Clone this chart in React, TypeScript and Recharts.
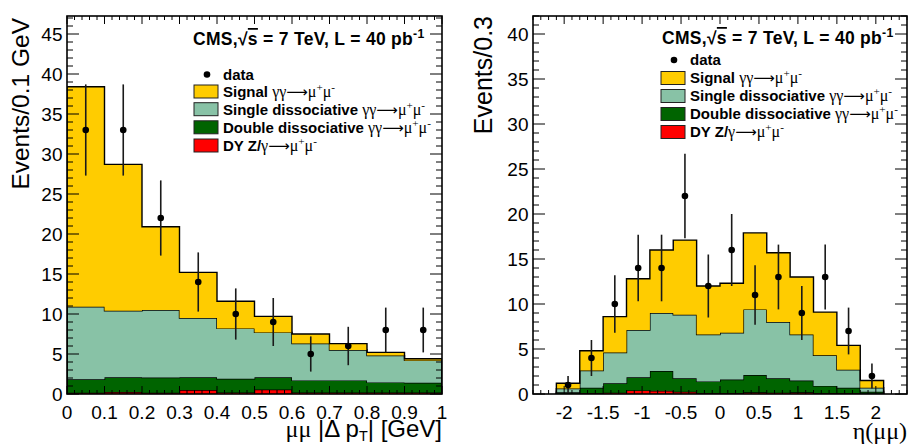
import React from "react";
import { ComposedChart, Area, Scatter, ErrorBar, XAxis, YAxis } from "recharts";

// ---- left panel: mumu |Delta pT| ----
const ptEdges = [0, 0.1, 0.2, 0.3, 0.4, 0.5, 0.6, 0.7, 0.8, 0.9, 1.0];
const ptCenters = [0.05, 0.15, 0.25, 0.35, 0.45, 0.55, 0.65, 0.75, 0.85, 0.95];
const ptData = [33, 33, 22, 14, 10, 9, 5, 6, 8, 8];
const ptDataErr = [5.7, 5.7, 4.7, 3.7, 3.2, 3.0, 2.2, 2.4, 2.8, 2.8];
const ptDY = [0.15, 0.25, 0.15, 0.5, 0.2, 0.55, 0.2, 0.2, 0.2, 0.2];
const ptDouble = [1.7, 1.85, 1.9, 1.6, 1.7, 1.55, 1.5, 1.5, 1.25, 1.2];
const ptSingle = [9.05, 8.3, 8.45, 7.4, 6.3, 5.6, 4.6, 3.8, 3.35, 2.8];
const ptSignal = [27.5, 18.3, 10.4, 5.7, 3.4, 2.0, 1.2, 0.8, 0.4, 0.2];
const ptXMajor = [0, 0.1, 0.2, 0.3, 0.4, 0.5, 0.6, 0.7, 0.8, 0.9, 1];
const ptYMajor = [0, 5, 10, 15, 20, 25, 30, 35, 40, 45];

// ---- right panel: eta(mumu) ----
const etaEdges = [-2.1, -1.8, -1.5, -1.2, -0.9, -0.6, -0.3, 0, 0.3, 0.6, 0.9, 1.2, 1.5, 1.8, 2.1];
const etaCenters = [-1.95, -1.65, -1.35, -1.05, -0.75, -0.45, -0.15, 0.15, 0.45, 0.75, 1.05, 1.35, 1.65, 1.95];
const etaData = [1, 4, 10, 14, 14, 22, 12, 16, 11, 13, 9, 13, 7, 2];
const etaDataErr = [1.0, 2.0, 3.2, 3.7, 3.7, 4.7, 3.5, 4.0, 3.3, 3.6, 3.0, 3.6, 2.6, 1.4];
const etaDY = [0.05, 0.1, 0.15, 0.4, 0.35, 0.25, 0.1, 0.1, 0.2, 0.15, 0.2, 0.1, 0.1, 0.05];
const etaDouble = [0.15, 0.6, 1.05, 1.45, 2.2, 1.5, 1.3, 1.5, 1.9, 1.6, 1.3, 0.8, 0.6, 0.2];
const etaSingle = [0.4, 1.9, 3.4, 5.25, 6.45, 7.05, 5.2, 5.2, 7.3, 6.25, 5.1, 3.4, 2.0, 0.45];
const etaSignal = [0.6, 2.2, 4.0, 5.7, 7.0, 8.3, 5.4, 5.5, 8.5, 7.7, 6.4, 4.8, 2.7, 0.8];
const etaXMajor = [-2, -1.5, -1, -0.5, 0, 0.5, 1, 1.5, 2];
const etaYMajor = [0, 5, 10, 15, 20, 25, 30, 35, 40];

const legendNames = ["Signal ", "Single dissociative ", "Double dissociative ", "DY Z/"];
const legendInitial = ["γγ", "γγ", "γγ", "γ"];
const colors = { signal: "#ffcc00", single: "#88c2a6", double: "#006400", dy: "#ff0000" };

const SANS = "'Liberation Sans', Arial, Helvetica, sans-serif";
const SERIF = "'Liberation Serif', 'DejaVu Serif', serif";

const H = 444;
const PLOT_TOP = 16;
const PLOT_BOTTOM = 394;

function stepRows(edges: number[], dy: number[], dd: number[], sd: number[], sig: number[]) {
    const n = dy.length;
    const row = (x: number, i: number) => ({
        x,
        dy: i < 0 ? 0 : dy[i],
        dd: i < 0 ? 0 : dd[i],
        sd: i < 0 ? 0 : sd[i],
        sig: i < 0 ? 0 : sig[i],
    });
    const rows = [row(edges[0], -1)];
    for (let i = 0; i < n; i++) rows.push(row(edges[i], i));
    rows.push(row(edges[n], n - 1));
    rows.push(row(edges[n], -1));
    return rows;
}

function range(lo: number, hi: number, step: number) {
    const out: number[] = [];
    const n = Math.round((hi - lo) / step);
    for (let i = 0; i <= n; i++) out.push(+(lo + i * step).toFixed(4));
    return out;
}

const isMajor = (v: number, majors: number[]) => majors.some((m) => Math.abs(m - v) < 1e-6);

interface PanelProps {
    left: number;
    width: number;
    mLeft: number;
    mRight: number;
    rows: any[];
    points: { x: number; y: number; err: number }[];
    xDomain: [number, number];
    yMax: number;
    xMajor: number[];
    xStep: number;
    yMajor: number[];
}

function Panel(p: PanelProps) {
    const plotLeft = p.mLeft;
    const plotRight = p.width - p.mRight;
    const xTicks = range(p.xDomain[0], p.xDomain[1], p.xStep);
    const yTicks = range(0, Math.floor(p.yMax), 1);

    const XTick = (t: any) => {
        const v = t.payload.value;
        const x = t.payload.coordinate ?? t.x;
        const major = isMajor(v, p.xMajor);
        const len = major ? 8 : 4;
        return (
            <g key={`xt-${v}`}>
                <line x1={x} x2={x} y1={PLOT_BOTTOM} y2={PLOT_BOTTOM - len} stroke="#000" strokeWidth={1} />
                <line x1={x} x2={x} y1={PLOT_TOP} y2={PLOT_TOP + len} stroke="#000" strokeWidth={1} />
                {major && (
                    <text x={x} y={PLOT_BOTTOM + 25} textAnchor="middle" fontSize={19} fontFamily={SANS} fill="#000">
                        {String(v)}
                    </text>
                )}
            </g>
        );
    };

    const YTick = (t: any) => {
        const v = t.payload.value;
        const y = t.payload.coordinate ?? t.y;
        const major = isMajor(v, p.yMajor);
        const len = major ? 12 : 6;
        return (
            <g key={`yt-${v}`}>
                <line x1={plotLeft} x2={plotLeft + len} y1={y} y2={y} stroke="#000" strokeWidth={1} />
                <line x1={plotRight} x2={plotRight - len} y1={y} y2={y} stroke="#000" strokeWidth={1} />
                {major && (
                    <text x={plotLeft - 4.5} y={y} dy="0.36em" textAnchor="end" fontSize={19} fontFamily={SANS} fill="#000">
                        {String(v)}
                    </text>
                )}
            </g>
        );
    };

    return (
        <div style={{ position: "absolute", left: p.left, top: 0 }}>
            <ComposedChart
                width={p.width}
                height={H}
                data={p.rows}
                margin={{ top: PLOT_TOP, right: p.mRight, bottom: H - PLOT_BOTTOM - 1, left: p.mLeft - 1 }}
            >
                <XAxis
                    dataKey="x"
                    type="number"
                    domain={p.xDomain}
                    allowDataOverflow
                    ticks={xTicks}
                    interval={0}
                    height={1}
                    tickSize={0}
                    tickMargin={0}
                    axisLine={false}
                    tickLine={false}
                    tick={XTick}
                />
                <YAxis
                    type="number"
                    domain={[0, p.yMax]}
                    allowDataOverflow
                    ticks={yTicks}
                    interval={0}
                    width={1}
                    tickSize={0}
                    tickMargin={0}
                    axisLine={false}
                    tickLine={false}
                    tick={YTick}
                />
                <Area type="stepAfter" dataKey="dy" stackId="mc" stroke="#000" strokeWidth={1.4} fill={colors.dy} fillOpacity={1} dot={false} activeDot={false} isAnimationActive={false} />
                <Area type="stepAfter" dataKey="dd" stackId="mc" stroke="#000" strokeWidth={1.4} fill={colors.double} fillOpacity={1} dot={false} activeDot={false} isAnimationActive={false} />
                <Area type="stepAfter" dataKey="sd" stackId="mc" stroke="#000" strokeWidth={1.4} fill={colors.single} fillOpacity={1} dot={false} activeDot={false} isAnimationActive={false} />
                <Area type="stepAfter" dataKey="sig" stackId="mc" stroke="#000" strokeWidth={1.4} fill={colors.signal} fillOpacity={1} dot={false} activeDot={false} isAnimationActive={false} />
                <Scatter
                    data={p.points}
                    dataKey="y"
                    fill="#000"
                    isAnimationActive={false}
                    shape={(s: any) => <circle cx={s.cx} cy={s.cy} r={3.3} fill="#000" />}
                >
                    <ErrorBar dataKey="err" direction="y" width={0} stroke="#1a1a1a" strokeWidth={1.6} isAnimationActive={false} />
                </Scatter>
            </ComposedChart>
        </div>
    );
}

function Sup({ children }: { children: string }) {
    return (
        <tspan baselineShift="super" fontSize="70%">
            {children}
        </tspan>
    );
}

function CmsLabel({ x, y }: { x: number; y: number }) {
    return (
        <text x={x} y={y} fontFamily={SANS} fontWeight="bold" fontSize={17.5} letterSpacing={0.3} fill="#000">
            CMS,√<tspan style={{ textDecoration: "overline" }}>s</tspan> = 7 TeV, L = 40 pb<Sup>-1</Sup>
        </text>
    );
}

function Legend({ x, ys, textX }: { x: number; ys: number[]; textX: number }) {
    const fills = [colors.signal, colors.single, colors.double, colors.dy];
    return (
        <g>
            <circle cx={x + 13} cy={ys[0]} r={3.3} fill="#000" />
            <text x={textX} y={ys[0]} dy="0.36em" fontFamily={SANS} fontWeight="bold" fontSize={15} fill="#000">
                data
            </text>
            {legendNames.map((name, i) => (
                <g key={name}>
                    <rect x={x} y={ys[i + 1] - 6.5} width={24} height={13} fill={fills[i]} stroke="#222" strokeWidth={1} />
                    <text x={textX} y={ys[i + 1]} dy="0.36em" fontFamily={SANS} fontWeight="bold" fontSize={15} fill="#000">
                        {name}
                        <tspan fontFamily={SERIF} fontWeight="normal" fontSize={16}>
                            {legendInitial[i]}
                            <tspan fontFamily="'DejaVu Sans', sans-serif" fontSize={15}>⟶</tspan>
                            μ<Sup>+</Sup>μ<Sup>-</Sup>
                        </tspan>
                    </text>
                </g>
            ))}
        </g>
    );
}

export default function App() {
    const ptRows = stepRows(ptEdges, ptDY, ptDouble, ptSingle, ptSignal);
    const etaRows = stepRows(etaEdges, etaDY, etaDouble, etaSingle, etaSignal);
    const ptPoints = ptCenters.map((x, i) => ({ x, y: ptData[i], err: ptDataErr[i] }));
    const etaPoints = etaCenters.map((x, i) => ({ x, y: etaData[i], err: etaDataErr[i] }));

    return (
        <div style={{ position: "absolute", left: 0, top: 0, width: 909, height: H, background: "#fff", overflow: "hidden" }}>
            <Panel
                left={0}
                width={455}
                mLeft={67}
                mRight={13}
                rows={ptRows}
                points={ptPoints}
                xDomain={[0, 1]}
                yMax={47.25}
                xMajor={ptXMajor}
                xStep={0.02}
                yMajor={ptYMajor}
            />
            <Panel
                left={455}
                width={454}
                mLeft={78}
                mRight={2}
                rows={etaRows}
                points={etaPoints}
                xDomain={[-2.4, 2.4]}
                yMax={42}
                xMajor={etaXMajor}
                xStep={0.1}
                yMajor={etaYMajor}
            />
            <svg width={909} height={H} style={{ position: "absolute", left: 0, top: 0, pointerEvents: "none" }}>
                <rect x={67} y={PLOT_TOP} width={375} height={PLOT_BOTTOM - PLOT_TOP} fill="none" stroke="#000" strokeWidth={1.6} />
                <rect x={533} y={PLOT_TOP} width={374} height={PLOT_BOTTOM - PLOT_TOP} fill="none" stroke="#000" strokeWidth={1.6} />

                <text transform="translate(29,18) rotate(-90)" textAnchor="end" fontFamily={SANS} fontSize={24.5} fill="#000">
                    Events/0.1 GeV
                </text>
                <text transform="translate(492,16) rotate(-90)" textAnchor="end" fontFamily={SANS} fontSize={25} fill="#000">
                    Events/0.3
                </text>

                <text x={442} y={437} textAnchor="end" fontFamily={SANS} fontSize={24} fill="#000">
                    <tspan fontFamily={SERIF}>μμ</tspan> |Δ p<tspan baselineShift={-4} fontSize="60%">T</tspan>| [GeV]
                </text>
                <text x={907} y={439} textAnchor="end" fontFamily={SERIF} fontSize={24} fill="#000">
                    η(μμ)
                </text>

                <CmsLabel x={193} y={45} />
                <Legend x={194} ys={[74.5, 91.5, 109.2, 127.3, 145.5]} textX={223} />
                <CmsLabel x={662} y={44} />
                <Legend x={661} ys={[60, 78, 96, 114, 132]} textX={690} />
            </svg>
        </div>
    );
}
